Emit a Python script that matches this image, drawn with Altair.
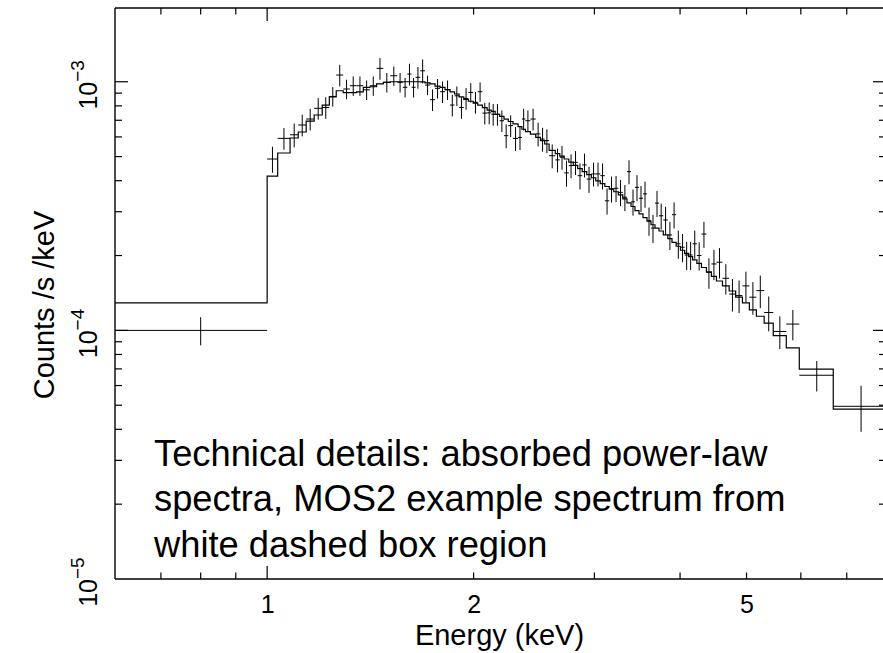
import altair as alt
import pandas as pd

# ---------------- data ----------------
# bin edges in keV (shared by the data points and the folded model)
edges_kev = [0.60, 1.00, 1.036, 1.080, 1.110,
             1.140, 1.171, 1.203, 1.232, 1.261, 1.291, 1.320, 1.350, 1.381, 1.412, 1.444, 1.477, 1.512,
             1.548, 1.577, 1.601, 1.624, 1.646, 1.672, 1.699, 1.728, 1.757, 1.787,
             1.817, 1.848, 1.876, 1.905, 1.935, 1.965, 1.997, 2.028, 2.060, 2.093,
             2.122, 2.150, 2.183, 2.215, 2.247, 2.283, 2.322, 2.352, 2.380, 2.420,
             2.464, 2.503, 2.539, 2.577,
             2.631, 2.671, 2.711, 2.753, 2.795, 2.837, 2.880, 2.924, 2.969, 3.014,
             3.060, 3.107, 3.154, 3.202, 3.251, 3.300, 3.347, 3.393, 3.438, 3.485,
             3.532, 3.580, 3.628, 3.677, 3.727, 3.781, 3.839, 3.893, 3.948, 4.005,
             4.062, 4.117, 4.172, 4.232, 4.298, 4.370, 4.444, 4.520, 4.612, 4.717,
             4.821, 4.932, 5.048, 5.168, 5.305, 5.469, 5.714, 5.969, 6.690, 8.0]

# observed counts /s /keV, in units of 1e-4
counts_e4 = [1.00, 4.89, 5.92, 6.12,
             6.70, 7.08, 7.82, 7.88, 8.73, 10.64, 9.35, 9.64, 9.64, 9.28, 9.64, 11.32, 9.95,
             10.57, 9.95, 9.50, 10.74, 9.50, 10.42, 11.07, 9.70, 8.47, 9.41,
             9.12, 9.28, 8.06, 8.78, 7.88, 8.57, 9.06, 8.27, 9.12, 7.48,
             7.50, 7.40, 7.40, 6.97, 6.07, 6.66, 5.92, 5.97, 7.08, 6.97,
             7.08, 6.17, 5.88, 5.80,
             5.04, 4.85, 4.97, 4.30, 4.60, 4.74, 4.19, 4.63, 4.06, 4.26,
             4.26, 4.19, 3.32, 3.71, 3.73, 3.59, 3.43, 4.35, 3.29, 3.76,
             3.40, 3.54, 2.76, 2.58, 3.25, 2.89, 2.78, 2.42, 2.92, 2.23,
             2.16, 2.01, 2.01, 2.23, 2.00, 2.44, 1.71, 1.85, 1.88, 1.62,
             1.40, 1.38, 1.51, 1.36, 1.445, 1.18, 0.99, 1.06, 0.66, 0.495]

# relative 1-sigma errors of the observed counts
rel_err = [0.13, 0.12, 0.10, 0.11,
           0.10, 0.10, 0.10, 0.10, 0.09, 0.10, 0.09, 0.09, 0.09, 0.09, 0.09, 0.10, 0.09,
           0.09, 0.09, 0.09, 0.10, 0.09, 0.10, 0.11, 0.09, 0.10, 0.09,
           0.10, 0.09, 0.10, 0.09, 0.10, 0.10, 0.09, 0.10, 0.09, 0.10,
           0.10, 0.10, 0.10, 0.10, 0.11, 0.10, 0.11, 0.11, 0.10, 0.10,
           0.10, 0.11, 0.11, 0.11,
           0.11, 0.11, 0.11, 0.12, 0.11, 0.11, 0.12, 0.11, 0.12, 0.11,
           0.11, 0.12, 0.12, 0.12, 0.12, 0.12, 0.12, 0.11, 0.12, 0.12,
           0.12, 0.12, 0.13, 0.13, 0.12, 0.12, 0.13, 0.13, 0.12, 0.13,
           0.13, 0.13, 0.13, 0.13, 0.13, 0.12, 0.14, 0.14, 0.14, 0.14,
           0.15, 0.15, 0.14, 0.15, 0.15, 0.16, 0.15, 0.14, 0.14, 0.21]

# folded absorbed power-law model, in units of 1e-4
model_e4 = [1.29, 4.17, 5.17, 5.94,
            6.28, 6.95, 7.35, 8.06, 8.70, 9.20, 9.05, 9.05, 9.10, 9.50, 9.55, 9.80, 9.95,
            10.0, 10.0, 10.0, 10.0, 10.0, 10.0, 9.98, 9.90, 9.80, 9.60,
            9.50, 9.30, 9.10, 8.93, 8.70, 8.50, 8.35, 8.20, 8.06, 7.87,
            7.69, 7.60, 7.40, 7.26, 7.08, 6.92, 6.77, 6.60, 6.44, 6.30,
            6.16, 5.97, 5.80, 5.62,
            5.30, 5.14, 5.02, 4.89, 4.75, 4.61, 4.47, 4.35, 4.23, 4.11,
            3.99, 3.89, 3.79, 3.70, 3.61, 3.51, 3.38, 3.26, 3.15, 3.03,
            2.94, 2.84, 2.75, 2.66, 2.58, 2.51, 2.42, 2.34, 2.26, 2.18,
            2.10, 2.04, 1.98, 1.92, 1.86, 1.79, 1.72, 1.65, 1.58, 1.51,
            1.44, 1.36, 1.29, 1.21, 1.14, 1.07, 0.953, 0.850, 0.698, 0.482]

x_tick_labels = [1, 2, 5]
x_major_ticks = [1]
x_minor_ticks = [0.7, 0.8, 0.9, 2, 3, 4, 5, 6, 7]
y_label_values = [1e-5, 1e-4, 1e-3]
y_label_base = ["10", "10", "10"]
y_label_sup = ["\u22125", "\u22124", "\u22123"]
y_major_ticks = [1e-4, 1e-3]
y_minor_ticks = [2e-5, 3e-5, 4e-5, 5e-5, 6e-5, 7e-5, 8e-5, 9e-5,
                 2e-4, 3e-4, 4e-4, 5e-4, 6e-4, 7e-4, 8e-4, 9e-4]

note_lines = ["Technical details: absorbed power-law",
              "spectra, MOS2 example spectrum from",
              "white dashed box region"]

x_title = "Energy (keV)"
y_title = "Counts /s /keV"

# ---------------- tables ----------------
lo = edges_kev[:-1]
hi = edges_kev[1:]
data_df = pd.DataFrame({
    "lo": lo,
    "hi": hi,
    "mid": [(a + b) / 2 for a, b in zip(lo, hi)],
    "c": [v * 1e-4 for v in counts_e4],
    "c_lo": [v * 1e-4 * (1 - e) for v, e in zip(counts_e4, rel_err)],
    "c_hi": [v * 1e-4 * (1 + e) for v, e in zip(counts_e4, rel_err)],
})
model_df = pd.DataFrame({
    "E": edges_kev,
    "m": [v * 1e-4 for v in model_e4] + [model_e4[-1] * 1e-4],
})

# ---------------- styling ----------------
W, H = 768, 571
FONT = "Liberation Sans"
xs = alt.Scale(type="log", domain=[0.6, 7.906], nice=False)
ys = alt.Scale(type="log", domain=[1e-5, 1.98e-3], nice=False)

xaxis = alt.Axis(values=x_tick_labels, title=x_title, labelExpr="datum.value + ''",
                 grid=False, ticks=False, domain=False, tickSize=0,
                 labelFont=FONT, labelFontSize=25, labelColor="black",
                 labelBaseline="alphabetic", labelPadding=33,
                 labelFlush=False, labelOverlap=False,
                 titleFont=FONT, titleFontSize=29, titleFontWeight="normal",
                 titleColor="black", titleBaseline="alphabetic", titleY=65)
yaxis = alt.Axis(labels=False, ticks=False, domain=False, grid=False, tickSize=0,
                 title=y_title, titleFont=FONT, titleFontSize=29,
                 titleFontWeight="normal", titleColor="black", titleAngle=270,
                 titleAlign="center", titleBaseline="alphabetic",
                 titleX=-62, titleY=296.5)

X = lambda f: alt.X(f, scale=xs, axis=xaxis)
Y = lambda f: alt.Y(f, scale=ys, axis=yaxis)

model_line = alt.Chart(model_df).mark_line(
    interpolate="step-after", color="black", strokeWidth=1.2, clip=True
).encode(x=X("E:Q"), y=Y("m:Q"))

xbars = alt.Chart(data_df).mark_rule(color="black", strokeWidth=1, clip=True).encode(
    x=X("lo:Q"), x2="hi:Q", y=Y("c:Q"))
ybars = alt.Chart(data_df).mark_rule(color="black", strokeWidth=1, clip=True).encode(
    x=X("mid:Q"), y=Y("c_lo:Q"), y2="c_hi:Q")

tick_style = dict(color="black", strokeWidth=1.2)
xmin_df = pd.DataFrame({"v": x_minor_ticks})
xmaj_df = pd.DataFrame({"v": x_major_ticks})
ymin_df = pd.DataFrame({"v": y_minor_ticks})
ymaj_df = pd.DataFrame({"v": y_major_ticks})

ticks = []
for df, ln in ((xmin_df, 6.5), (xmaj_df, 13)):
    ticks.append(alt.Chart(df).mark_rule(**tick_style).encode(
        x=X("v:Q"), y=alt.value(H), y2=alt.value(H - ln)))
    ticks.append(alt.Chart(df).mark_rule(**tick_style).encode(
        x=X("v:Q"), y=alt.value(0), y2=alt.value(ln)))
for df, ln, rln in ((ymin_df, 7, 4), (ymaj_df, 13, 10)):
    ticks.append(alt.Chart(df).mark_rule(**tick_style).encode(
        y=Y("v:Q"), x=alt.value(0), x2=alt.value(ln)))
    ticks.append(alt.Chart(df).mark_rule(**tick_style).encode(
        y=Y("v:Q"), x=alt.value(W), x2=alt.value(W - rln)))

frame_df = pd.DataFrame({"a": [0]})
frame_style = dict(color="black", strokeWidth=1.4)
frame = [
    alt.Chart(frame_df).mark_rule(**frame_style).encode(
        x=alt.value(0), y=alt.value(0), y2=alt.value(H)),
    alt.Chart(frame_df).mark_rule(**frame_style).encode(
        x=alt.value(0), x2=alt.value(W), y=alt.value(0)),
    alt.Chart(frame_df).mark_rule(**frame_style).encode(
        x=alt.value(0), x2=alt.value(W), y=alt.value(H)),
]

ylab_df = pd.DataFrame({"v": y_label_values, "base": y_label_base, "sup": y_label_sup})
ylab_base = alt.Chart(ylab_df).mark_text(
    angle=270, align="right", baseline="alphabetic", fontSize=25, font=FONT, color="black"
).encode(y=Y("v:Q"), x=alt.value(-18), text="base:N")
ylab_sup = alt.Chart(ylab_df).mark_text(
    angle=270, align="left", baseline="alphabetic", fontSize=19, font=FONT, color="black"
).encode(y=Y("v:Q"), x=alt.value(-31), text="sup:N")

note = alt.Chart(frame_df).mark_text(
    align="left", baseline="alphabetic", fontSize=36.3, lineHeight=45.3,
    font=FONT, color="black"
).encode(x=alt.value(39), y=alt.value(458), text=alt.value(note_lines))

chart = alt.layer(
    model_line, xbars, ybars, *ticks, *frame, ylab_base, ylab_sup, note
).properties(
    width=W, height=H,
    autosize=alt.AutoSizeParams(type="none"),
    padding={"left": 115, "top": 8, "right": 0, "bottom": 74},
    background="white",
).configure_view(stroke=None)

chart.save("out.html", embed_options={"renderer": "svg", "actions": False})
